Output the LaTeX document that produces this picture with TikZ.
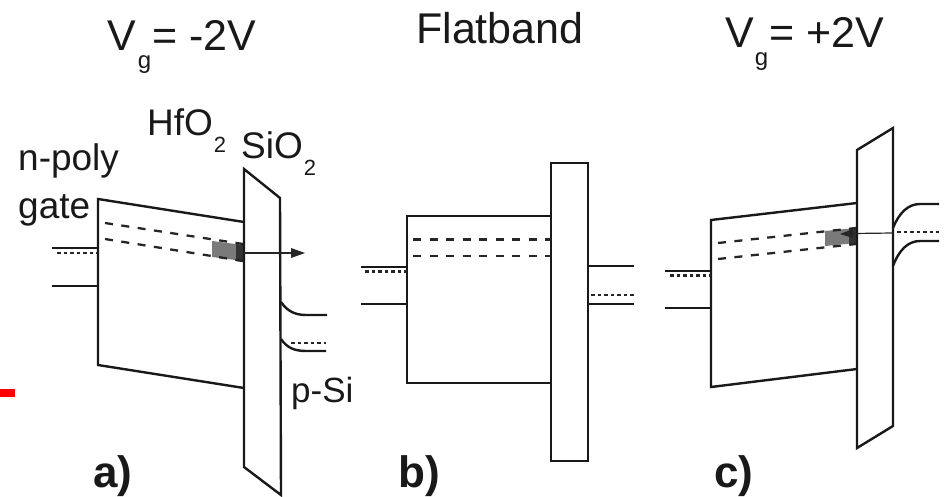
\documentclass[tikz,border=0pt]{standalone}
\usepackage{fontspec}
\setmainfont{Liberation Sans}
\newcommand{\lowg}[1]{\kern#1pt\raisebox{-18pt}{\fontsize{24}{24}\selectfont g}\kern1pt}
\newcommand{\lowtwo}{\kern1pt\raisebox{-17pt}{\fontsize{22}{22}\selectfont 2}}
\begin{document}
\begin{tikzpicture}[x=1pt,y=-1pt,line join=miter,
  band/.style={line width=2.4pt,black!90},
  dashband/.style={line width=2.3pt,black!85,dash pattern=on 8pt off 8.5pt},
  fermi/.style={line width=2.2pt,black!85,dash pattern=on 3.5pt off 3pt},
  trap/.style={fill=black!52,draw=none},
  trapedge/.style={fill=black!80,draw=none},
  tunnel/.style={line width=1.2pt,black!85},
  tip/.style={fill=black!85,draw=none},
  lab/.style={inner sep=0pt,anchor=base west,font=\fontsize{37}{38}\selectfont,black!90},
  ttl/.style={inner sep=0pt,anchor=base west,font=\fontsize{43}{44}\selectfont,black!90},
  panel/.style={inner sep=0pt,anchor=base west,font=\fontsize{44}{45}\selectfont\bfseries,black!90}]
\useasboundingbox (0,0) rectangle (946,496);
\fill[red] (0,389) rectangle (15,397);
% titles
\node[ttl] (t1) at (107,50) {V\lowg{2}= -2V};
\node[ttl] (t2) at (416,43) {Flatband};
\node[ttl] (t3) at (725,47) {V\lowg{1}= +2V};
% panel a
\fill[trap] (212,241) -- (243,245) -- (243,261) -- (212,257) -- cycle;
\fill[trapedge] (236,244) -- (243,245) -- (243,262) -- (236,261) -- cycle;
\draw[band] (244,222) -- (98,199) -- (98,365) -- (244,388);
\draw[band] (244,169) -- (280,198) -- (281,495) -- (244,467) -- cycle;
\draw[band] (52,248) -- (98,248);
\draw[fermi] (57,253) -- (98,253);
\draw[band] (52,286) -- (98,286);
\draw[dashband] (105,223) -- (243,244);
\draw[dashband] (105,239) -- (243,261);
\coordinate (a1) at (243,253); \coordinate (a2) at (291,253);
\draw[tunnel] (a1) -- (a2);
\fill[tip] (291,248) -- (305,253) -- (291,258) -- cycle;
\draw[band] (281,302) .. controls (287,311) and (295,315) .. (306,315) -- (327,315);
\draw[fermi] (291,343) -- (326,343);
\draw[band] (281,339) .. controls (287,348) and (295,351) .. (306,351) -- (326,351);
\node[lab] (n1) at (18,170) {n-poly};
\node[lab] (n2) at (18,218) {gate};
\node[lab] (h) at (147,135) {HfO\lowtwo};
\node[lab] (s) at (241,158) {SiO\lowtwo};
\node[lab,font=\fontsize{35}{36}\selectfont] (p) at (291,402) {p-Si};
\node[panel] (pa) at (93,487) {a)};
% panel b
\draw[band] (551,216) -- (407,216) -- (407,383) -- (551,383);
\draw[band] (551,163) rectangle (588,461);
\draw[band] (361,267) -- (407,267);
\draw[fermi] (365,271.5) -- (407,271.5);
\draw[band] (361,304) -- (407,304);
\draw[dashband] (413,239.5) -- (551,239.5);
\draw[dashband] (413,256) -- (551,256);
\draw[band] (589,266) -- (634,266);
\draw[fermi] (591,295) -- (634,295);
\draw[band] (589,304) -- (634,304);
\node[panel] (pb) at (398,487) {b)};
% panel c
\fill[trap] (825,231) -- (856,228) -- (856,243) -- (825,246) -- cycle;
\fill[trapedge] (849,229) -- (856,228) -- (856,244) -- (849,245) -- cycle;
\draw[band] (857,203) -- (711,220) -- (711,387) -- (857,369);
\draw[band] (857,150) -- (893,128) -- (893,426) -- (857,448) -- cycle;
\draw[band] (665,271) -- (711,271);
\draw[fermi] (670,275.5) -- (711,275.5);
\draw[band] (665,308) -- (711,308);
\draw[dashband] (718,243) -- (856,228);
\draw[dashband] (718,259) -- (856,244);
\coordinate (c1) at (893,233); \coordinate (c2) at (853,233.5);
\draw[tunnel] (c1) -- (c2);
\fill[tip] (853,229) -- (840,234) -- (853,238) -- cycle;
\draw[band] (893,228) .. controls (899,213) and (908,204) .. (920,204) -- (939,204);
\draw[fermi] (897,232) -- (939,232);
\draw[band] (893,266) .. controls (899,250) and (908,241) .. (920,241) -- (939,241);
\node[panel] (pc) at (714,487) {c)};
\end{tikzpicture}
\end{document}
